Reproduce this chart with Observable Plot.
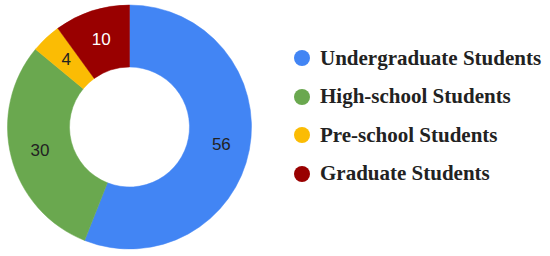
<!DOCTYPE html>
<html>
<head>
<meta charset="utf-8">
<script src="https://cdn.jsdelivr.net/npm/d3@7"></script>
<script src="https://cdn.jsdelivr.net/npm/@observablehq/plot@0.6"></script>
<style>
  html, body { margin: 0; padding: 0; background: #fff; }
  #wrap { position: relative; width: 550px; height: 256px; overflow: hidden; }
  #chart { position: absolute; left: 0; top: 0; }
  #legend { position: absolute; left: 294px; top: 39px; font-family: "Liberation Serif", "Times New Roman", serif; font-size: 21px; font-weight: bold; color: #222; }
  .row { display: flex; align-items: center; height: 38.5px; white-space: nowrap; }
  .sw { width: 16px; height: 16px; border-radius: 50%; margin-right: 10px; flex: none; }
</style>
</head>
<body>
<div id="wrap"><div id="chart"></div><div id="legend"></div></div>
<script>
const categories = ["Undergraduate Students", "High-school Students", "Pre-school Students", "Graduate Students"];
const values = [56, 30, 4, 10];
const colors = ["#4285f4", "#6aa84f", "#fbbc04", "#990000"];
const labelColors = ["#222222", "#222222", "#222222", "#ffffff"];

const data = categories.map((c, i) => ({category: c, value: values[i], labelColor: labelColors[i]}));

const W = 260, H = 256;
const cx = 129.5, cy = 127, rOuter = 122, rInner = 60, rLabel = 93;

const color = Plot.scale({color: {domain: categories, range: colors}});
const pie = d3.pie().sort(null).value(d => d.value);
const arcs = pie(data);
const arc = d3.arc().innerRadius(rInner).outerRadius(rOuter);
const labelArc = d3.arc().innerRadius(rLabel).outerRadius(rLabel);

function donutMark() {
  const g = d3.create("svg:g").attr("transform", `translate(${cx},${cy})`);
  g.selectAll("path").data(arcs).join("path")
    .attr("d", arc)
    .attr("fill", d => color.apply(d.data.category))
    .attr("stroke", d => color.apply(d.data.category))
    .attr("stroke-width", 0.5);
  return g.node();
}

const chart = Plot.plot({
  width: W,
  height: H,
  margin: 0,
  x: {type: "identity", axis: null},
  y: {type: "identity", axis: null},
  marks: [
    donutMark,
    Plot.text(arcs, {
      x: d => cx + labelArc.centroid(d)[0],
      y: d => cy + labelArc.centroid(d)[1],
      text: d => String(d.data.value),
      fill: d => d.data.labelColor,
      fontSize: 17,
      fontFamily: "Liberation Sans, Arial, sans-serif"
    })
  ]
});
chart.style.background = "transparent";
document.getElementById("chart").appendChild(chart);

const legend = document.getElementById("legend");
categories.forEach((c, i) => {
  const row = document.createElement("div");
  row.className = "row";
  const sw = document.createElement("span");
  sw.className = "sw";
  sw.style.background = color.apply(c);
  const t = document.createElement("span");
  t.textContent = c;
  row.appendChild(sw);
  row.appendChild(t);
  legend.appendChild(row);
});
</script>
</body>
</html>
